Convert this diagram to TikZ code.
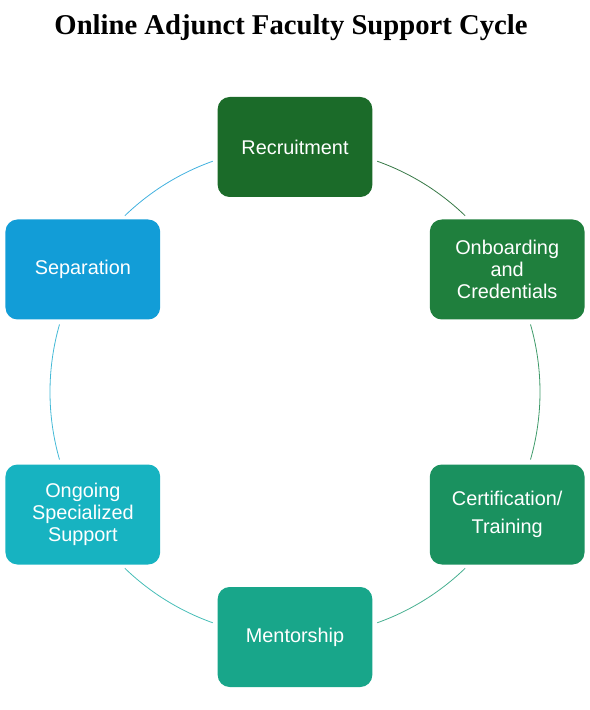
\documentclass[tikz,border=0pt]{standalone}
\usepackage{fontspec}
\setmainfont{Liberation Sans}
\newfontfamily\titlefont{Liberation Serif}
\usepackage{xcolor}
\usepackage{tikz}
\usetikzlibrary{positioning}

\definecolor{cRec}{HTML}{1B6B29}
\definecolor{cOnb}{HTML}{1F7F3D}
\definecolor{cCert}{HTML}{1A915F}
\definecolor{cMent}{HTML}{18A68A}
\definecolor{cOng}{HTML}{17B3C1}
\definecolor{cSep}{HTML}{129DD7}

\begin{document}
\begin{tikzpicture}[x=0.75pt, y=0.75pt,
  stage/.style={rectangle, rounded corners=9pt, minimum width=116pt, minimum height=75pt,
    text=white, align=center, font=\fontsize{14.9}{16.5}\selectfont},
  ring/.style={line width=0.6pt}]
\useasboundingbox (-295,-318) rectangle (294,392);
\node [font=\titlefont\bfseries\fontsize{21.5}{24}\selectfont] (T) at (-4,364) {Online Adjunct Faculty Support Cycle};
\node [stage, fill=cRec] (Rec) at (90:245) {Recruitment};
\node [stage, fill=cOnb] (Onb) at (30:245) {Onboarding\\and\\Credentials};
\node [stage, fill=cCert] (Cert) at (-30:245) {Certification/\\[4.5pt]Training};
\node [stage, fill=cMent] (Ment) at (-90:245) {Mentorship};
\node [stage, fill=cOng] (Ong) at (-150:245) {Ongoing\\Specialized\\Support};
\node [stage, fill=cSep] (Sep) at (150:245) {Separation};
% ring between the stages
\coordinate (RecOnb) at (70.4:245);
\coordinate (OnbCert) at (16:245);
\coordinate (CertMent) at (-46:245);
\coordinate (MentOng) at (-109.6:245);
\coordinate (OngSep) at (196:245);
\coordinate (SepRec) at (134:245);
\draw [ring, draw=cRec!50!cOnb!75!gray] (RecOnb) arc [start angle=70.4, end angle=46, radius=245];
\draw [ring, draw=cOnb!50!cCert!85!white] (OnbCert) arc [start angle=16, end angle=-16, radius=245];
\draw [ring, draw=cCert!50!cMent!80!white] (CertMent) arc [start angle=-46, end angle=-70.4, radius=245];
\draw [ring, draw=cMent!50!cOng!80!white] (MentOng) arc [start angle=-109.6, end angle=-134, radius=245];
\draw [ring, draw=cOng!50!cSep!80!white] (OngSep) arc [start angle=196, end angle=164, radius=245];
\draw [ring, draw=cSep!80!white] (SepRec) arc [start angle=134, end angle=109.6, radius=245];
\end{tikzpicture}
\end{document}
